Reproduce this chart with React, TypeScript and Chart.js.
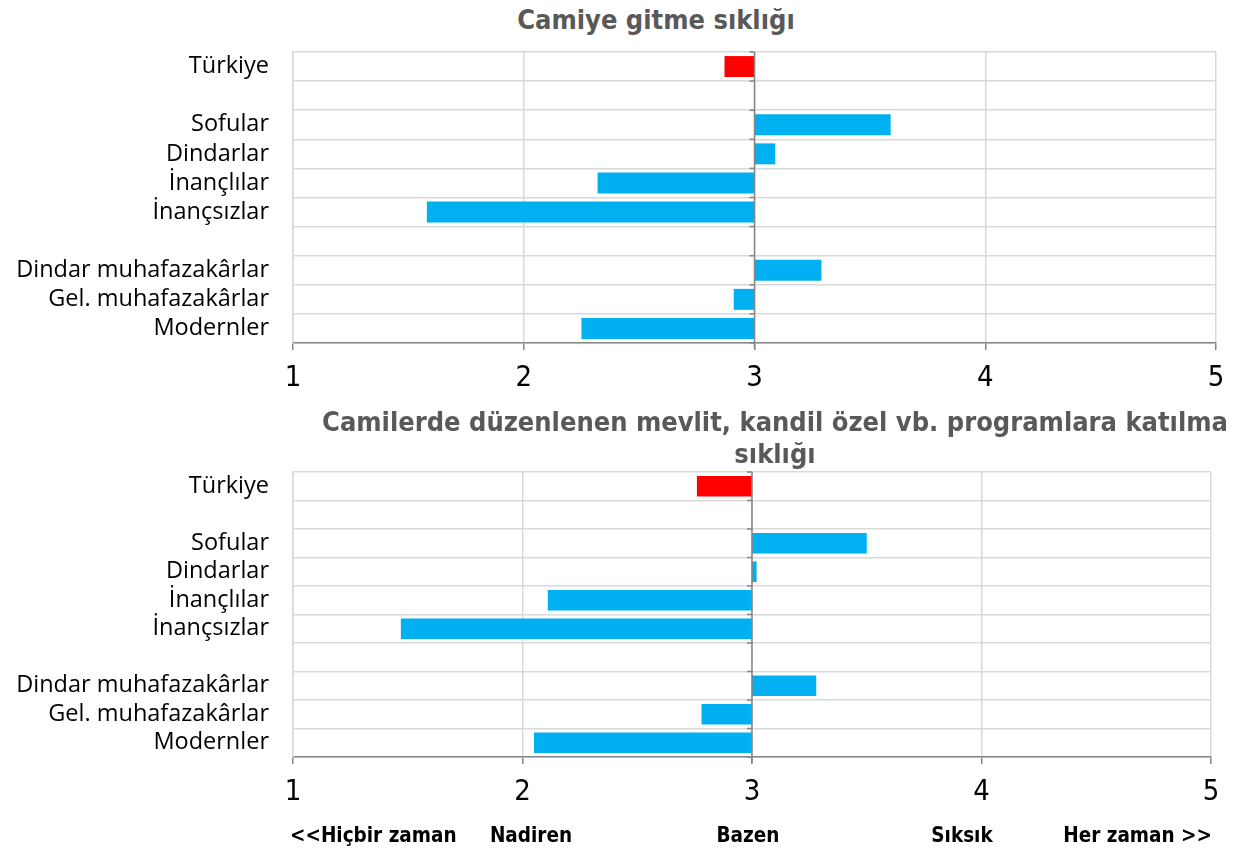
import React, { useEffect, useRef } from "react";
import { Chart, registerables } from "chart.js";

Chart.register(...registerables);

const categories = [
  "Türkiye",
  "",
  "Sofular",
  "Dindarlar",
  "İnançlılar",
  "İnançsızlar",
  "",
  "Dindar muhafazakârlar",
  "Gel. muhafazakârlar",
  "Modernler",
];
const mosqueValues = [2.87, null, 3.59, 3.09, 2.32, 1.58, null, 3.29, 2.91, 2.25];
const programValues = [2.76, null, 3.5, 3.02, 2.11, 1.47, null, 3.28, 2.78, 2.05];
const baseline = 3;
const axisMin = 1;
const axisMax = 5;
const scaleLabels = ["<<Hiçbir zaman", "Nadiren", "Bazen", "Sıksık", "Her zaman >>"];
const title1 = "Camiye gitme sıklığı";
const title2a = "Camilerde düzenlenen mevlit, kandil özel vb. programlara katılma";
const title2b = "sıklığı";

const RED = "#FF0000";
const BLUE = "#00B0F0";
const GRID = "#D9D9D9";
const AXIS = "#868686";

const centerAxisPlugin = {
  id: "centerAxis",
  afterDatasetsDraw(chart: any) {
    const x = chart.scales.x;
    const y = chart.scales.y;
    const ctx = chart.ctx;
    const px = x.getPixelForValue(baseline);
    ctx.save();
    ctx.strokeStyle = AXIS;
    ctx.lineWidth = 1.5;
    ctx.beginPath();
    ctx.moveTo(px, chart.chartArea.top);
    ctx.lineTo(px, chart.chartArea.bottom + 6);
    ctx.stroke();
    const n = categories.length;
    for (let i = 0; i <= n; i++) {
      const py = y.getPixelForValue(i - 0.5);
      ctx.beginPath();
      ctx.moveTo(px - 5, py);
      ctx.lineTo(px, py);
      ctx.stroke();
    }
    ctx.restore();
  },
};

function BarChart({ values, padTop, padRight, bottomH }: any) {
  const ref = useRef<HTMLCanvasElement>(null);
  useEffect(() => {
    if (!ref.current) return;
    const chart = new Chart(ref.current, {
      type: "bar",
      data: {
        labels: categories,
        datasets: [
          {
            data: values.map((v: number | null) => (v == null ? null : [baseline, v])),
            backgroundColor: categories.map((c, i) => (i === 0 ? RED : BLUE)),
            barPercentage: 0.72,
            categoryPercentage: 1,
          },
        ],
      },
      options: {
        indexAxis: "y",
        animation: false,
        responsive: false,
        maintainAspectRatio: false,
        layout: { padding: { top: padTop, right: padRight, left: 0, bottom: 0 } },
        plugins: { legend: { display: false }, tooltip: { enabled: false }, title: { display: false } },
        scales: {
          x: {
            min: axisMin,
            max: axisMax,
            afterFit: (s: any) => {
              s.height = bottomH;
            },
            ticks: {
              stepSize: 1,
              color: "#000",
              padding: 11,
              font: { family: "'Liberation Sans Narrow', 'DejaVu Sans Condensed', sans-serif", size: 29 },
            },
            grid: { color: GRID, lineWidth: 1.5, tickColor: AXIS, tickLength: 7, drawTicks: true },
            border: { color: AXIS, width: 1.5 },
          },
          y: {
            afterFit: (s: any) => {
              s.width = 293;
              s.paddingTop = 0;
              s.paddingBottom = 0;
            },
            ticks: {
              color: "#000",
              padding: 24,
              autoSkip: false,
              font: { family: "'Open Sans', sans-serif", size: 23.5 },
            },
            grid: { color: GRID, lineWidth: 1.5, offset: true, drawTicks: false },
            border: { color: GRID, width: 1.5 },
          },
        },
      } as any,
      plugins: [centerAxisPlugin],
    });
    return () => chart.destroy();
  }, []);
  return <canvas ref={ref} width={1237} height={370} style={{ display: "block" }} />;
}

const titleStyle: React.CSSProperties = {
  position: "absolute",
  fontFamily: "'DejaVu Sans Condensed', 'Liberation Sans Narrow', sans-serif",
  fontWeight: "bold",
  fontSize: 27,
  color: "#595959",
  textAlign: "center",
  lineHeight: "32px",
  whiteSpace: "nowrap",
};

const labelStyle: React.CSSProperties = {
  position: "absolute",
  top: 823,
  fontFamily: "'DejaVu Sans Condensed', 'Liberation Sans Narrow', sans-serif",
  fontWeight: "bold",
  fontSize: 20.5,
  color: "#000",
  whiteSpace: "nowrap",
  lineHeight: "24px",
};

const labelCenters = [null, 531, 748, 962, null];

export default function App() {
  return (
    <div style={{ position: "absolute", left: 0, top: 0, width: 1237, height: 850, background: "#fff", overflow: "hidden" }}>
      <div style={{ position: "absolute", left: 0, top: 40 }}>
        <BarChart values={mosqueValues} padTop={12} padRight={21} bottomH={67} />
      </div>
      <div style={{ position: "absolute", left: 0, top: 460 }}>
        <BarChart values={programValues} padTop={12} padRight={26} bottomH={73} />
      </div>
      <div style={{ ...titleStyle, left: 356, width: 600, top: 4 }}>{title1}</div>
      <div style={{ ...titleStyle, left: 175, width: 1200, top: 406 }}>
        {title2a}
        <br />
        {title2b}
      </div>
      {scaleLabels.map((t, i) => {
        if (i === 0) return <div key={i} style={{ ...labelStyle, left: 290 }}>{t}</div>;
        if (i === scaleLabels.length - 1)
          return <div key={i} style={{ ...labelStyle, right: 1237 - 1212 }}>{t}</div>;
        return (
          <div key={i} style={{ ...labelStyle, left: (labelCenters[i] as number) - 100, width: 200, textAlign: "center" }}>
            {t}
          </div>
        );
      })}
    </div>
  );
}
